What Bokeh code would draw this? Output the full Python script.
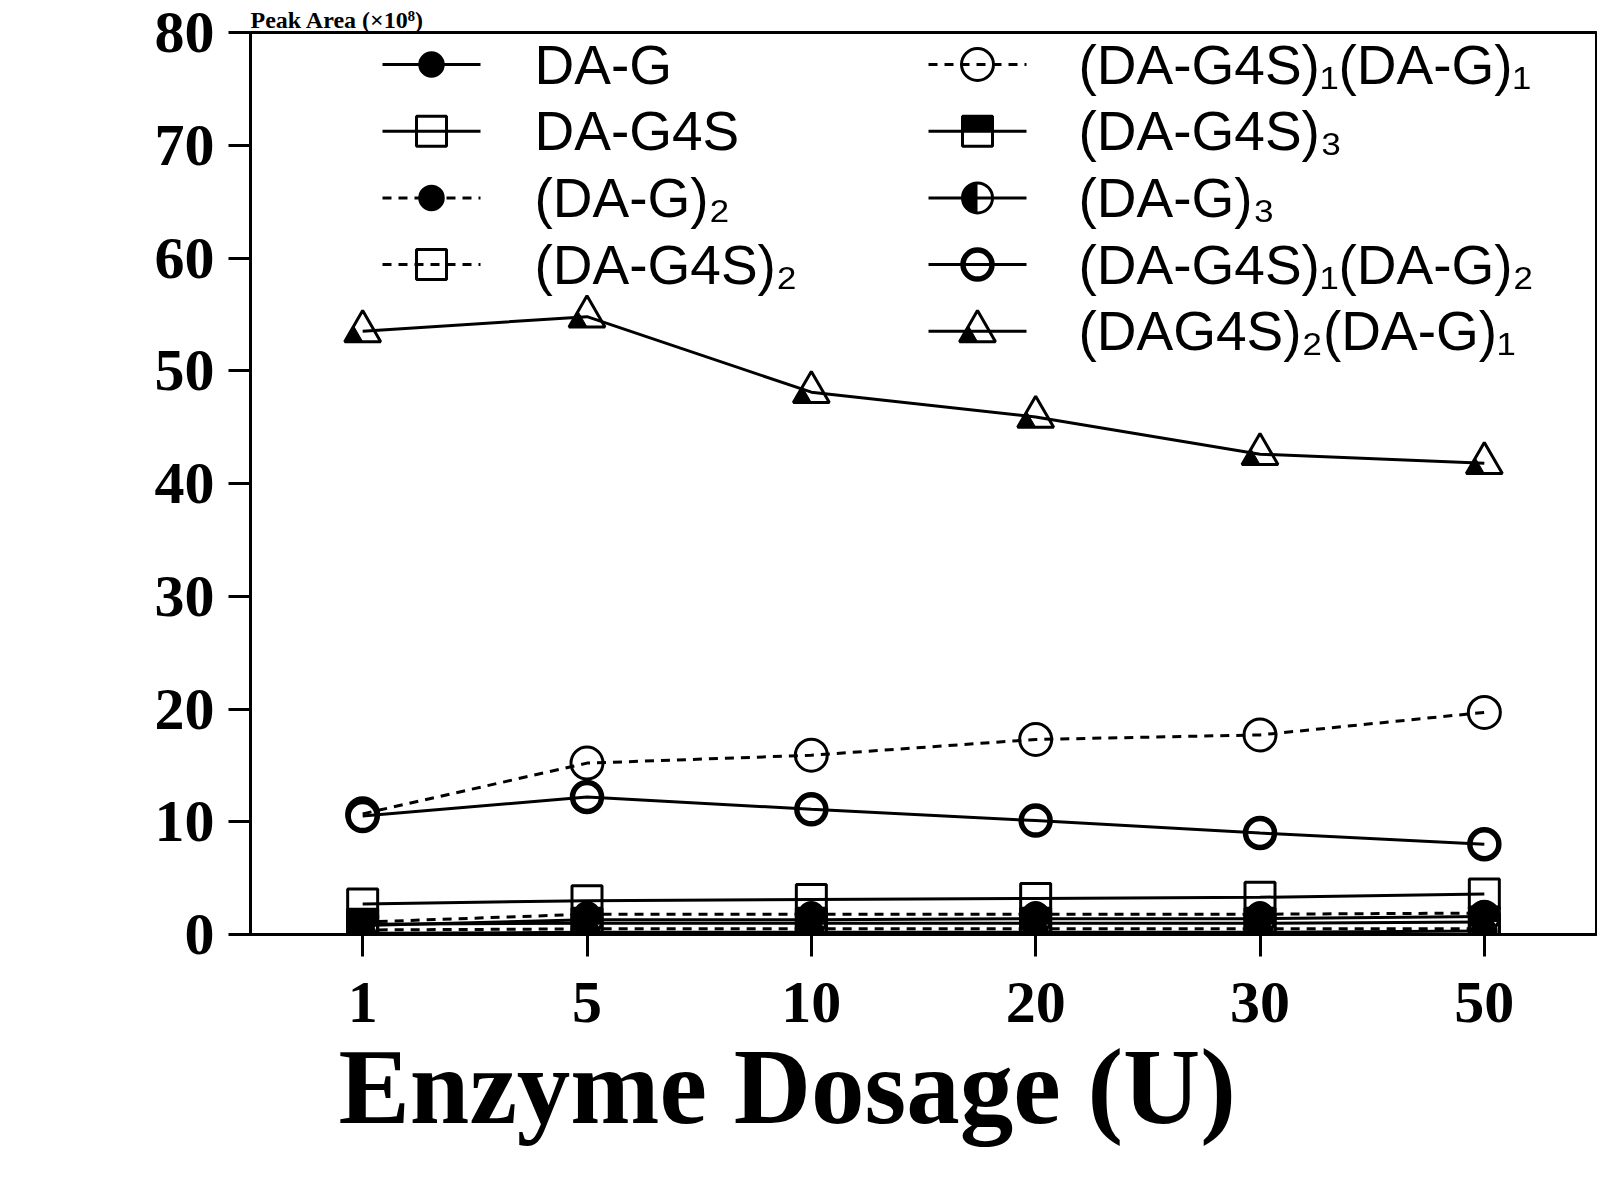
import math
from bokeh.plotting import figure
from bokeh.models import ColumnDataSource, Range1d, FixedTicker, Title
from bokeh.transform import dodge
from bokeh.core.properties import value
from bokeh.embed import file_html
from bokeh.resources import INLINE

# ---------------- data ----------------
dosage = ["1", "5", "10", "20", "30", "50"]
y_ticks = [0, 10, 20, 30, 40, 50, 60, 70, 80]

da_g = [0.1, 0.2, 0.2, 0.2, 0.2, 0.3]
da_g4s = [2.7, 3.0, 3.1, 3.2, 3.3, 3.6]
da_g_2 = [1.1, 1.8, 1.8, 1.8, 1.8, 1.9]
da_g4s_2 = [0.4, 0.5, 0.5, 0.5, 0.5, 0.5]
g4s1_g1 = [10.7, 15.2, 15.9, 17.3, 17.7, 19.7]
da_g4s_3 = [0.9, 1.0, 1.0, 1.0, 1.0, 1.1]
da_g_3 = [0.8, 1.3, 1.3, 1.4, 1.4, 1.6]
g4s1_g2 = [10.5, 12.2, 11.1, 10.1, 9.0, 8.0]
g4s2_g1 = [53.5, 54.8, 48.1, 45.9, 42.6, 41.8]

labels = ["DA-G", "DA-G4S", "(DA-G)\u2082", "(DA-G4S)\u2082",
          "(DA-G4S)\u2081(DA-G)\u2081", "(DA-G4S)\u2083", "(DA-G)\u2083",
          "(DA-G4S)\u2081(DA-G)\u2082", "(DAG4S)\u2082(DA-G)\u2081"]
series = [da_g, da_g4s, da_g_2, da_g4s_2, g4s1_g1, da_g4s_3, da_g_3, g4s1_g2, g4s2_g1]

x_label = "Enzyme Dosage (U)"
y_label = "Peak Area (\u00d710\u2078)"

# category positions on the (evenly spaced) x axis
x_pos = list(range(len(dosage)))

# ---------------- styles ----------------
SOLID = "solid"
DASH = "9 7"
styles = [
    dict(marker="circle", size=24, fill=True, half=None, dash=SOLID, lw=2.5),
    dict(marker="square", size=30, fill=False, half=None, dash=SOLID, lw=3),
    dict(marker="circle", size=24, fill=True, half=None, dash=DASH, lw=2.5),
    dict(marker="square", size=30, fill=False, half=None, dash=DASH, lw=3),
    dict(marker="circle", size=32, fill=False, half=None, dash=DASH, lw=3),
    dict(marker="square", size=30, fill=False, half="top", dash=SOLID, lw=3),
    dict(marker="circle", size=30, fill=False, half="left", dash=SOLID, lw=3),
    dict(marker="circle", size=29, fill=False, half=None, dash=SOLID, lw=5.5),
    dict(marker="triangle", size=36, fill=False, half="tri", dash=SOLID, lw=3),
]

W, H = 1597, 1165
BL, BR, BT, BB = 250, 1, 32, 231
FW, FH = W - BL - BR, H - BT - BB
YMAX = 80.0
px_x = FW / len(dosage)
px_y = FH / YMAX

SERIF = "Liberation Serif"
SANS = "Liberation Sans"

p = figure(width=W, height=H, x_range=Range1d(-0.5, len(dosage) - 0.5),
           y_range=Range1d(0, YMAX), output_backend="svg", toolbar_location=None,
           min_border_left=BL, min_border_right=BR, min_border_top=BT, min_border_bottom=BB,
           background_fill_color="white", border_fill_color="white")
p.xgrid.visible = False
p.ygrid.visible = False
p.outline_line_color = "black"
p.outline_line_width = 3

for ax in (p.xaxis[0], p.yaxis[0]):
    ax.axis_line_width = 3
    ax.major_tick_line_width = 3
    ax.major_tick_out = 22
    ax.major_tick_in = 0
    ax.minor_tick_line_color = None
    ax.major_label_text_font = SERIF
    ax.major_label_text_font_style = "bold"
    ax.major_label_text_font_size = "60px"
    ax.major_label_text_color = "black"

p.xaxis.ticker = FixedTicker(ticks=x_pos, minor_ticks=[])
p.xaxis.major_label_overrides = {i: d for i, d in zip(x_pos, dosage)}
p.xaxis.major_label_standoff = 26
p.yaxis.major_label_standoff = 14
p.yaxis.ticker = FixedTicker(ticks=y_ticks, minor_ticks=[])

# horizontal axis title in the panel below the frame
p.add_layout(Title(text=x_label, align="left", offset=88, standoff=2,
                   text_font=SERIF, text_font_style="bold", text_font_size="107px",
                   text_color="black"), "below")

# ---------------- series ----------------
for vals, st in zip(series, styles):
    src = ColumnDataSource(dict(x=x_pos, y=vals))
    p.line("x", "y", source=src, line_color="black", line_width=3, line_dash=st["dash"])
for vals, st in zip(series, styles):
    src = ColumnDataSource(dict(x=x_pos, y=vals))
    s = st["size"]
    p.scatter("x", "y", source=src, marker=st["marker"], size=s, line_color="black",
              line_width=st["lw"], fill_color="black" if st["fill"] else None)
    if st["half"] == "left":
        p.wedge("x", "y", source=src, radius=s / 2, radius_units="screen",
                start_angle=math.pi / 2, end_angle=3 * math.pi / 2,
                fill_color="black", line_color=None)
    elif st["half"] == "top":
        p.rect(x="x", y=dodge("y", (s / 4) / px_y), source=src, width=s, height=s / 2,
               width_units="screen", height_units="screen", fill_color="black", line_color=None)
    elif st["half"] == "tri":
        p.scatter(x=dodge("x", -(s / 4) / px_x), y=dodge("y", -(s * math.sqrt(3) / 12) / px_y),
                  source=src, marker="triangle", size=s / 2, fill_color="black",
                  line_color="black", line_width=1)

# ---------------- legend (drawn in frame pixel coordinates) ----------------
p.extra_x_ranges = {"lx": Range1d(0, FW)}
p.extra_y_ranges = {"ly": Range1d(FH, 0)}
cols = [dict(x0=132, x1=230, mx=181, tx=284), dict(x0=678, x1=776, mx=727, tx=828)]
row0, row_step = 32, 66.7
for i, (lab, st) in enumerate(zip(labels, styles)):
    c = cols[0] if i < 4 else cols[1]
    r = i if i < 4 else i - 4
    ry = row0 + r * row_step
    kw = dict(x_range_name="lx", y_range_name="ly")
    s = st["size"]
    p.segment(x0=[c["x0"]], y0=[ry], x1=[c["x1"]], y1=[ry], line_color="black",
              line_width=3, line_dash=st["dash"], **kw)
    p.scatter(x=[c["mx"]], y=[ry], marker=st["marker"], size=s, line_color="black",
              line_width=st["lw"], fill_color="black" if st["fill"] else None, **kw)
    if st["half"] == "left":
        p.wedge(x=[c["mx"]], y=[ry], radius=s / 2, radius_units="screen",
                start_angle=math.pi / 2, end_angle=3 * math.pi / 2,
                fill_color="black", line_color=None, **kw)
    elif st["half"] == "top":
        p.rect(x=[c["mx"]], y=[ry - s / 4], width=s, height=s / 2, width_units="screen",
               height_units="screen", fill_color="black", line_color=None, **kw)
    elif st["half"] == "tri":
        p.scatter(x=[c["mx"] - s / 4], y=[ry + s * math.sqrt(3) / 12], marker="triangle",
                  size=s / 2, fill_color="black", line_color="black", line_width=1, **kw)
    p.text(x=[c["tx"]], y=[ry], text=[lab], text_font=value(SANS), text_font_size="55px",
           text_baseline="middle", text_align="left", text_color="black", **kw)

# vertical-axis title kept as plain (unrotated) text above the frame
p.add_layout(Title(text=y_label, align="left", offset=0, standoff=0,
                   text_font=SERIF, text_font_style="bold", text_font_size="24px",
                   text_color="black"), "above")

open("out.html", "w").write(file_html(p, INLINE))
